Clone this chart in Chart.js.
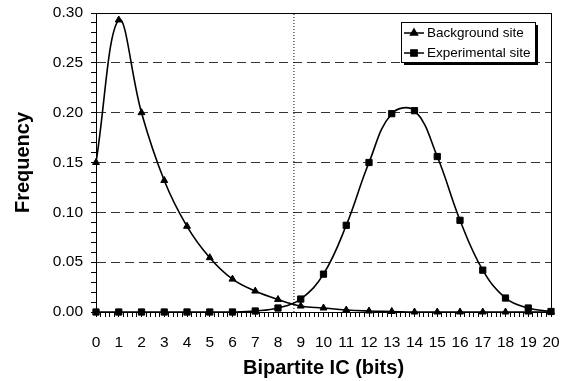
<!DOCTYPE html>
<html>
<head>
<meta charset="utf-8">
<script src="https://cdn.jsdelivr.net/npm/chart.js@4/dist/chart.umd.min.js"></script>
<style>
  html, body { margin: 0; padding: 0; background: #fff; }
  #wrap { width: 564px; height: 381px; }
</style>
</head>
<body>
<div id="wrap"><canvas id="c" width="564" height="381"></canvas></div>
<script>
// ---- data ----
const bitValues = [0,1,2,3,4,5,6,7,8,9,10,11,12,13,14,15,16,17,18,19,20];
const backgroundSite = [0.150,0.293,0.200,0.132,0.086,0.0545,0.033,0.021,0.0125,0.006,0.004,0.002,0.001,0.0005,0,0,0,0,0,0,0];
const experimentalSite = [0,0,0,0,0,0,0,0.001,0.004,0.013,0.038,0.087,0.150,0.199,0.202,0.156,0.092,0.042,0.014,0.004,0.0005];
const seriesNames = ['Background site', 'Experimental site'];
const thresholdBits = 8.7;
const yRange = [0, 0.30];
const xRange = [0, 20];
const xTitle = 'Bipartite IC (bits)';
const yTitle = 'Frequency';

const FONT = "Arial, 'Liberation Sans', Helvetica, sans-serif";

function pts(vals) { return bitValues.map((b, i) => ({ x: b, y: vals[i] })); }

const framePlugin = {
  id: 'frame',
  beforeDatasetsDraw(chart) {
    const { ctx, chartArea: a } = chart;
    ctx.save();
    ctx.strokeStyle = '#000';
    ctx.lineWidth = 1;
    ctx.setLineDash([]);
    ctx.strokeRect(Math.round(a.left) + 0.5, Math.round(a.top) + 0.5, Math.round(a.right - a.left), Math.round(a.bottom - a.top));
    ctx.restore();
  }
};

const legendPlugin = {
  id: 'boxLegend',
  afterDraw(chart) {
    const { ctx, chartArea: a } = chart;
    const items = chart.data.datasets.filter(d => d.inLegend);
    const w = 134, rowH = 20, h = 40;
    const x0 = a.right - 16 - w, y0 = a.top + 9;
    ctx.save();
    ctx.fillStyle = '#000';
    ctx.fillRect(x0 + 3, y0 + 3, w, h);
    ctx.fillStyle = '#fff';
    ctx.fillRect(x0, y0, w, h);
    ctx.strokeStyle = '#000';
    ctx.lineWidth = 1;
    ctx.strokeRect(x0 + 0.5, y0 + 0.5, w, h);
    ctx.font = '13.5px ' + FONT;
    ctx.textBaseline = 'middle';
    ctx.textAlign = 'left';
    items.forEach((d, i) => {
      const yy = y0 + 11 + i * rowH;
      ctx.beginPath();
      ctx.lineWidth = 1.5;
      ctx.moveTo(x0 + 3, yy);
      ctx.lineTo(x0 + 23, yy);
      ctx.stroke();
      Chart.helpers.drawPoint(ctx, { pointStyle: d.pointStyle, radius: d.pointRadius, borderWidth: 1, rotation: 0 }, x0 + 13, yy);
      ctx.fillStyle = '#000';
      ctx.fill();
      ctx.fillText(d.label, x0 + 26, yy + 0.5);
    });
    ctx.restore();
  }
};

const isMult = (v, s) => Math.abs(v / s - Math.round(v / s)) < 1e-6;

new Chart(document.getElementById('c'), {
  type: 'line',
  data: {
    datasets: [
      {
        label: seriesNames[0], inLegend: true,
        data: pts(backgroundSite),
        borderColor: '#000', backgroundColor: '#000', borderWidth: 1.6,
        pointStyle: 'triangle', pointRadius: 4, pointBorderWidth: 1,
        tension: 0.4, clip: 6, fill: false
      },
      {
        label: seriesNames[1], inLegend: true,
        data: pts(experimentalSite),
        borderColor: '#000', backgroundColor: '#000', borderWidth: 1.6,
        pointStyle: 'rect', pointRadius: 4.4, pointBorderWidth: 1,
        tension: 0.4, clip: 6, fill: false
      },
      {
        label: 'threshold', inLegend: false,
        data: [{ x: thresholdBits, y: yRange[0] }, { x: thresholdBits, y: yRange[1] }],
        borderColor: '#000', borderWidth: 1, borderDash: [1, 2],
        pointRadius: 0, tension: 0, fill: false
      }
    ]
  },
  options: {
    responsive: false,
    animation: false,
    events: [],
    layout: { padding: { top: 13, right: 13, left: 0, bottom: 0 } },
    plugins: { legend: { display: false }, tooltip: { enabled: false } },
    scales: {
      x: {
        type: 'linear', min: xRange[0], max: xRange[1],
        afterFit(s) { s.height = 69; s.paddingLeft = 0; s.paddingRight = 0; },
        ticks: {
          stepSize: 0.2, autoSkip: false, maxRotation: 0, padding: 16,
          color: '#000', font: { family: FONT, size: 15.5 },
          callback: v => isMult(v, 1) ? String(Math.round(v)) : ''
        },
        grid: { drawOnChartArea: false, tickLength: 5, color: '#000', tickColor: '#000' },
        border: { color: '#000', width: 1 },
        title: {
          display: true, text: xTitle, color: '#000',
          font: { family: FONT, size: 20, weight: 'bold' },
          padding: { top: 0, bottom: 1 }
        }
      },
      y: {
        min: yRange[0], max: yRange[1],
        afterFit(s) { s.width = 96; s.paddingTop = 0; s.paddingBottom = 0; },
        ticks: {
          stepSize: 0.01, autoSkip: false, padding: 8,
          color: '#000', font: { family: FONT, size: 15.5 },
          callback: v => isMult(v, 0.05) ? v.toFixed(2) : ''
        },
        grid: {
          tickLength: 5,
          color: ctx => {
            const v = ctx.tick ? ctx.tick.value : 0;
            if (isMult(v, 0.05) && v > 1e-6 && v < yRange[1] - 1e-6) return '#333';
            return 'rgba(0,0,0,0)';
          },
          tickColor: '#000'
        },
        border: { color: '#000', width: 1, dash: [9, 5] },
        title: {
          display: true, text: yTitle, color: '#000',
          font: { family: FONT, size: 20, weight: 'bold' },
          padding: { top: 11, bottom: 0 }
        }
      }
    }
  },
  plugins: [framePlugin, legendPlugin]
});
</script>
</body>
</html>
